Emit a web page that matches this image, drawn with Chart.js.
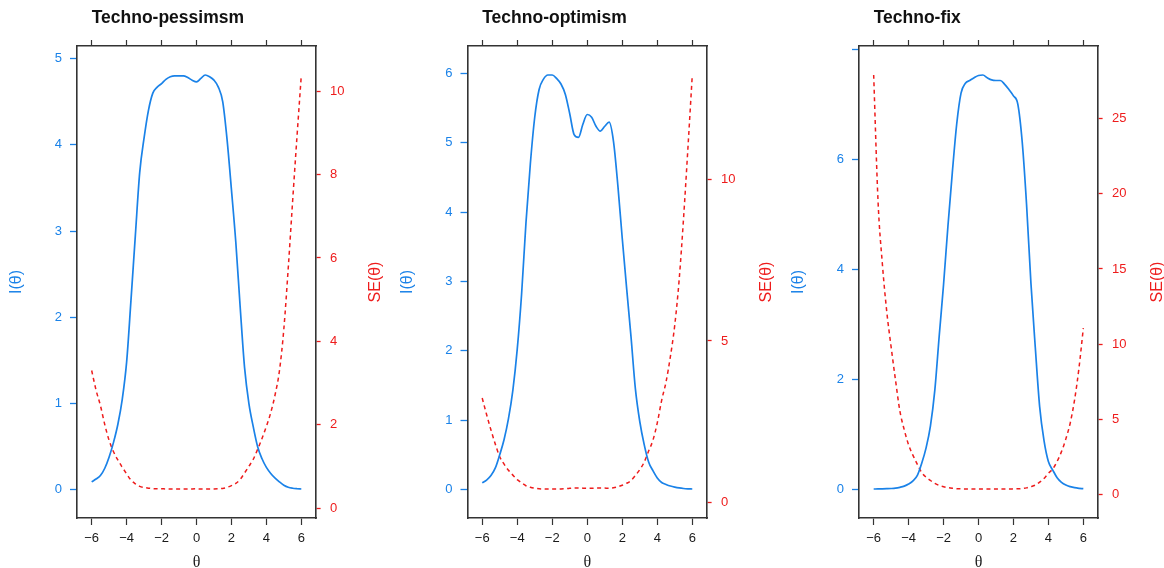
<!DOCTYPE html>
<html>
<head>
<meta charset="utf-8">
<script src="https://cdn.jsdelivr.net/npm/chart.js@4.4.1/dist/chart.umd.min.js"></script>
<style>
html,body{margin:0;padding:0;background:#ffffff;overflow:hidden;}
#wrap{position:relative;width:1164px;height:568px;background:#ffffff;}
.panel{position:absolute;top:0;height:568px;}
</style>
</head>
<body>
<div id="wrap">
  <div class="panel" style="left:0px;width:390px"><canvas id="c1" width="390" height="568"></canvas></div>
  <div class="panel" style="left:390px;width:390px"><canvas id="c2" width="390" height="568"></canvas></div>
  <div class="panel" style="left:780px;width:384px"><canvas id="c3" width="384" height="568"></canvas></div>
</div>
<script>
// ---------------- data ----------------
const theta = [-6,-5.75,-5.5,-5.25,-5,-4.75,-4.5,-4.25,-4,-3.75,-3.5,-3.25,-3,-2.75,-2.5,-2.25,-2,-1.75,-1.5,-1.25,-1,-0.75,-0.5,-0.25,0,0.25,0.5,0.75,1,1.25,1.5,1.75,2,2.25,2.5,2.75,3,3.25,3.5,3.75,4,4.25,4.5,4.75,5,5.25,5.5,5.75,6];

const panelTitles = ['Techno-pessimsm', 'Techno-optimism', 'Techno-fix'];

// Techno-pessimsm
const infoPessimism = [0.092,0.125,0.165,0.25,0.38,0.55,0.76,1.05,1.48,2.20,2.95,3.68,4.08,4.40,4.60,4.67,4.71,4.76,4.79,4.80,4.80,4.80,4.78,4.75,4.73,4.77,4.81,4.79,4.75,4.67,4.50,4.06,3.48,2.87,2.12,1.42,1.00,0.73,0.50,0.36,0.26,0.19,0.135,0.092,0.054,0.030,0.0185,0.0126,0.0093];
const sePessimism = [3.30,2.83,2.46,2.00,1.62,1.35,1.15,0.98,0.82,0.67,0.58,0.52,0.495,0.477,0.466,0.463,0.461,0.458,0.457,0.456,0.456,0.456,0.457,0.459,0.460,0.458,0.456,0.457,0.459,0.463,0.471,0.496,0.536,0.590,0.687,0.84,1.00,1.17,1.41,1.67,1.96,2.29,2.72,3.30,4.30,5.75,7.35,8.90,10.39];

// Techno-optimism
const infoOptimism = [0.096,0.135,0.20,0.31,0.50,0.72,1.02,1.43,2.02,2.82,3.85,4.70,5.37,5.77,5.92,5.98,5.98,5.93,5.85,5.70,5.42,5.12,5.08,5.27,5.41,5.37,5.24,5.17,5.24,5.30,5.02,4.38,3.62,2.90,2.20,1.45,0.98,0.65,0.40,0.27,0.165,0.10,0.072,0.049,0.033,0.021,0.0129,0.0083,0.0057];
const seOptimism = [3.23,2.72,2.24,1.80,1.41,1.18,0.99,0.84,0.70,0.60,0.51,0.461,0.432,0.416,0.411,0.409,0.409,0.411,0.413,0.419,0.430,0.442,0.444,0.436,0.430,0.432,0.437,0.440,0.437,0.434,0.446,0.478,0.526,0.587,0.674,0.83,1.01,1.24,1.58,1.92,2.46,3.16,3.73,4.52,5.50,6.90,8.80,10.98,13.25];

// Techno-fix
const infoFix = [0.0013,0.0026,0.0043,0.0068,0.0104,0.0173,0.0325,0.054,0.092,0.148,0.25,0.47,0.75,1.15,1.80,2.78,3.72,4.78,5.75,6.63,7.20,7.38,7.43,7.48,7.52,7.53,7.48,7.44,7.43,7.43,7.36,7.26,7.15,7.00,6.32,5.18,3.75,2.58,1.50,0.88,0.50,0.346,0.207,0.123,0.073,0.0443,0.0252,0.0142,0.0082];
const seFix = [27.9,19.5,15.3,12.15,9.8,7.6,5.55,4.3,3.3,2.6,2.0,1.46,1.15,0.93,0.745,0.60,0.518,0.457,0.417,0.388,0.373,0.368,0.367,0.366,0.365,0.364,0.366,0.367,0.367,0.367,0.369,0.371,0.374,0.378,0.398,0.439,0.516,0.623,0.816,1.066,1.41,1.70,2.20,2.85,3.70,4.75,6.30,8.40,11.06];

// tick values and labels
const xTickValues = [-6,-4,-2,0,2,4,6];
const xTickLabels = ['\u22126','\u22124','\u22122','0','2','4','6'];
const infoTicks1 = [0,1,2,3,4,5];
const infoLabels1 = ['0','1','2','3','4','5'];
const seTicks1 = [0,2,4,6,8,10];
const seLabels1 = ['0','2','4','6','8','10'];
const infoTicks2 = [0,1,2,3,4,5,6];
const infoLabels2 = ['0','1','2','3','4','5','6'];
const seTicks2 = [0,5,10];
const seLabels2 = ['0','5','10'];
const infoTicks3 = [0,2,4,6,8];
const infoLabels3 = ['0','2','4','6',''];
const seTicks3 = [0,5,10,15,20,25];
const seLabels3 = ['0','5','10','15','20','25'];

// ---------------- styling / layout ----------------
const BLUE = '#1a82e8';
const RED = '#ee1c1c';
const BOX = '#333333';
const SANS = '"Liberation Sans", Arial, Helvetica, sans-serif';

const panels = [
  {id:'c1', title:panelTitles[0], info:infoPessimism, se:sePessimism, iT:infoTicks1, iL:infoLabels1, sT:seTicks1, sL:seLabels1, leftW:77, rightW:74},
  {id:'c2', title:panelTitles[1], info:infoOptimism, se:seOptimism, iT:infoTicks2, iL:infoLabels2, sT:seTicks2, sL:seLabels2, leftW:77.5, rightW:73},
  {id:'c3', title:panelTitles[2], info:infoFix, se:seFix, iT:infoTicks3, iL:infoLabels3, sT:seTicks3, sL:seLabels3, leftW:79, rightW:66}
];

function padRange(arr) {
  const lo = Math.min(...arr), hi = Math.max(...arr);
  const p = (hi - lo) * 0.07;
  return {min: lo - p, max: hi + p};
}

const panelDecor = {
  id: 'panelDecor',
  afterDraw(chart, args, opts) {
    const ctx = chart.ctx;
    const area = chart.chartArea;
    ctx.save();
    // panel title
    ctx.fillStyle = '#111111';
    ctx.font = 'bold 17.5px ' + SANS;
    ctx.textAlign = 'left';
    ctx.textBaseline = 'middle';
    ctx.fillText(opts.title, chart.scales.x.getPixelForValue(xTickValues[0]), 18);
    // right axis title, reading upwards
    ctx.translate(area.right + 60, (area.top + area.bottom) / 2);
    ctx.rotate(-Math.PI / 2);
    ctx.fillStyle = RED;
    ctx.font = '16px ' + SANS;
    ctx.textAlign = 'center';
    ctx.fillText(opts.rightTitle, 0, 0);
    ctx.restore();
  }
};

panels.forEach(p => {
  const xr = padRange(theta);
  const ir = padRange(p.info);
  const sr = padRange(p.se);
  new Chart(document.getElementById(p.id), {
    type: 'line',
    data: {
      datasets: [
        {
          label: 'I(\u03b8)',
          data: theta.map((t, i) => ({x: t, y: p.info[i]})),
          borderColor: BLUE,
          borderWidth: 1.7,
          pointRadius: 0,
          fill: false,
          cubicInterpolationMode: 'monotone',
          yAxisID: 'y',
          xAxisID: 'x'
        },
        {
          label: 'SE(\u03b8)',
          data: theta.map((t, i) => ({x: t, y: p.se[i]})),
          borderColor: RED,
          borderWidth: 1.5,
          borderDash: [4, 3.5],
          pointRadius: 0,
          fill: false,
          cubicInterpolationMode: 'monotone',
          yAxisID: 'y2',
          xAxisID: 'x'
        }
      ]
    },
    options: {
      responsive: false,
      animation: false,
      devicePixelRatio: 1,
      layout: {padding: 0},
      plugins: {
        legend: {display: false},
        tooltip: {enabled: false},
        panelDecor: {title: p.title, rightTitle: 'SE(\u03b8)'}
      },
      scales: {
        x: {
          type: 'linear', position: 'bottom', min: xr.min, max: xr.max,
          afterBuildTicks: s => { s.ticks = xTickValues.map(v => ({value: v})); },
          afterFit: s => { s.height = 50; },
          ticks: {color: '#1a1a1a', font: {size: 13, family: SANS}, padding: 6, maxRotation: 0, autoSkip: false,
                  callback: (v, i) => xTickLabels[i]},
          grid: {drawOnChartArea: false, drawTicks: true, tickLength: 7, tickColor: BOX, tickWidth: 1.2},
          border: {display: true, color: BOX, width: 1.6},
          title: {display: true, text: '\u03b8', color: '#1a1a1a', font: {size: 16, family: '"Liberation Serif", "DejaVu Serif", serif'}, padding: {top: 0, bottom: -4}}
        },
        x2: {
          type: 'linear', position: 'top', min: xr.min, max: xr.max,
          afterBuildTicks: s => { s.ticks = xTickValues.map(v => ({value: v})); },
          afterFit: s => { s.height = 46; },
          ticks: {display: false},
          grid: {drawOnChartArea: false, drawTicks: true, tickLength: 6, tickColor: BOX, tickWidth: 1.2},
          border: {display: true, color: BOX, width: 1.6}
        },
        y: {
          type: 'linear', position: 'left', min: ir.min, max: ir.max,
          afterBuildTicks: s => { s.ticks = p.iT.map(v => ({value: v})); },
          afterFit: s => { s.width = p.leftW; },
          ticks: {color: BLUE, font: {size: 13, family: SANS}, padding: 8, autoSkip: false,
                  callback: (v, i) => p.iL[i]},
          grid: {drawOnChartArea: false, drawTicks: true, tickLength: 7, tickColor: BLUE, tickWidth: 1.3},
          border: {display: true, color: BOX, width: 1.6},
          title: {display: true, text: 'I(\u03b8)', color: BLUE, font: {size: 16, family: SANS}, padding: {top: p.leftW - 70, bottom: 0}}
        },
        y2: {
          type: 'linear', position: 'right', min: sr.min, max: sr.max,
          afterBuildTicks: s => { s.ticks = p.sT.map(v => ({value: v})); },
          afterFit: s => { s.width = p.rightW; },
          ticks: {color: RED, font: {size: 13, family: SANS}, padding: 7, autoSkip: false,
                  callback: (v, i) => p.sL[i]},
          grid: {drawOnChartArea: false, drawTicks: true, tickLength: 7, tickColor: RED, tickWidth: 1.3, tickBorderDash: [4, 3]},
          border: {display: true, color: BOX, width: 1.6}
        }
      }
    },
    plugins: [panelDecor]
  });
});
</script>
</body>
</html>
